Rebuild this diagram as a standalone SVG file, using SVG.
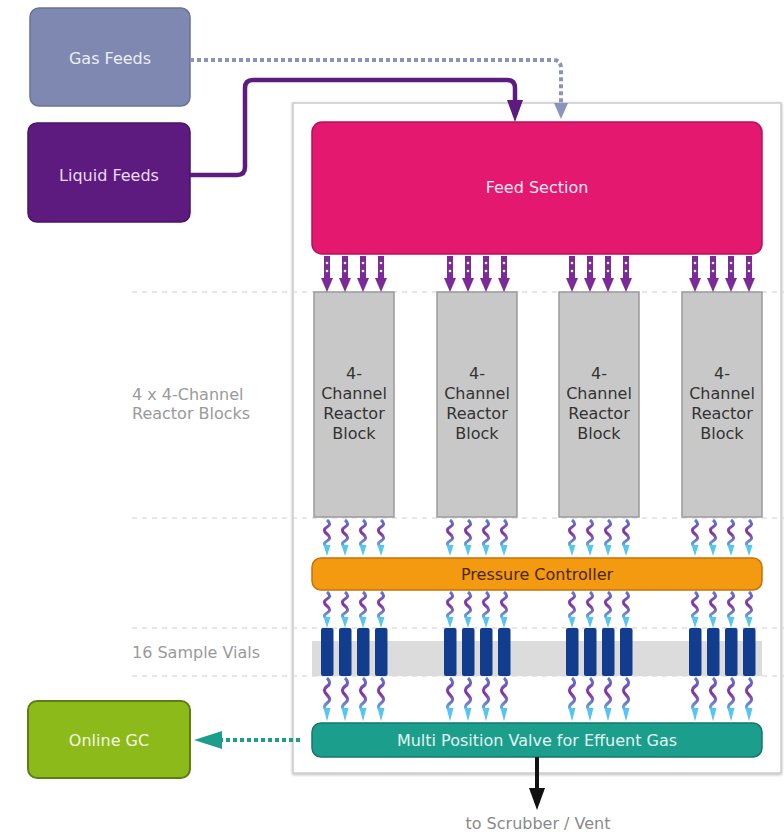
<svg xmlns="http://www.w3.org/2000/svg" xmlns:xlink="http://www.w3.org/1999/xlink" width="784" height="832" viewBox="0 0 784 832">
<style>
text{font-family:"DejaVu Sans","Liberation Sans",sans-serif;font-size:16px}
.c{text-anchor:middle}
.lab{fill:#9a9a9a}
.dash{stroke:#cfcfcf;stroke-width:1;stroke-dasharray:5 5;fill:none}
.reactor{fill:#c8c8c8;stroke:#9a9a9a;stroke-width:1.5}
.rt{fill:#333}
.vial{fill:#123c8e}
</style>
<defs>
<linearGradient id="wg" x1="0" y1="0" x2="0" y2="1">
<stop offset="0" stop-color="#5d7ad8"/>
<stop offset="0.45" stop-color="#8a2c9e"/>
<stop offset="1" stop-color="#55c6f2"/>
</linearGradient>
<filter id="sh" x="-10%" y="-10%" width="120%" height="130%">
<feDropShadow dx="0" dy="1" stdDeviation="1.5" flood-color="#000" flood-opacity="0.3"/>
</filter>
<g id="wave">
<path d="M0,0 c3.5,3 3.5,5 0,7 c-3.5,2 -3.5,4 0,7 c3.5,3 3.5,5 0,7 c-3.5,2 -3.5,4 0,6 L0,28" fill="none" stroke="url(#wg)" stroke-width="3"/>
<polygon points="-3.5,25 3.5,25 0,36" fill="#55c6f2"/>
</g>
<g id="feed">
<line x1="0" y1="0" x2="0" y2="25" stroke="#7b2a98" stroke-width="6"/>
<circle cx="0" cy="7" r="1.3" fill="#fff"/>
<circle cx="0" cy="15" r="1.3" fill="#fff"/>
<polygon points="-6,22 6,22 0,36" fill="#7b2a98"/>
</g>
<g id="feed4"><use xlink:href="#feed" x="13"/><use xlink:href="#feed" x="31"/><use xlink:href="#feed" x="49"/><use xlink:href="#feed" x="67"/></g>
<g id="wave4"><use xlink:href="#wave" x="13"/><use xlink:href="#wave" x="31"/><use xlink:href="#wave" x="49"/><use xlink:href="#wave" x="67"/></g>
<g id="vial4"><rect class="vial" x="7" y="0" width="12.5" height="48" rx="2"/><rect class="vial" x="25" y="0" width="12.5" height="48" rx="2"/><rect class="vial" x="43" y="0" width="12.5" height="48" rx="2"/><rect class="vial" x="61" y="0" width="12.5" height="48" rx="2"/></g>
</defs>
<rect width="784" height="832" fill="#fff"/>

<g id="panel">
<rect x="293" y="103" width="488" height="670" fill="#fff" stroke="#cccccc" stroke-width="1.5" filter="url(#sh)"/>
</g>

<g id="guides">
<line class="dash" x1="132" y1="292" x2="784" y2="292"/>
<line class="dash" x1="132" y1="518" x2="784" y2="518"/>
<line class="dash" x1="132" y1="628" x2="784" y2="628"/>
<line class="dash" x1="132" y1="676" x2="784" y2="676"/>
<rect x="312" y="641" width="450" height="35" fill="#dcdcdc"/>
</g>

<g id="labels">
<text class="lab" x="132" y="400">4 x 4-Channel</text>
<text class="lab" x="132" y="419">Reactor Blocks</text>
<text class="lab" x="132" y="658">16 Sample Vials</text>
</g>

<g id="gas-feeds">
<rect x="30" y="8" width="160" height="98" rx="9" fill="#7f88b0" stroke="#6a7398" stroke-width="1.5"/>
<text class="c" x="110" y="64" fill="#eceef6">Gas Feeds</text>
</g>
<g id="liquid-feeds">
<rect x="28" y="123" width="162" height="99" rx="9" fill="#5d1b80" stroke="#4a1366" stroke-width="1.5"/>
<text class="c" x="109" y="181" fill="#eadcf2">Liquid Feeds</text>
</g>
<g id="feed-section">
<rect x="312" y="122" width="450" height="132" rx="10" fill="#e3186e" stroke="#b8105a" stroke-width="1.5"/>
<text class="c" x="537" y="193" fill="#fde6f0">Feed Section</text>
</g>
<g id="reactor-blocks">
<rect class="reactor" x="314" y="292" width="80" height="225"/>
<rect class="reactor" x="437" y="292" width="80" height="225"/>
<rect class="reactor" x="559" y="292" width="80" height="225"/>
<rect class="reactor" x="682" y="292" width="80" height="225"/>
<g class="rt">
<text class="c rt" x="354" y="379">4-</text><text class="c rt" x="354" y="399">Channel</text><text class="c rt" x="354" y="419">Reactor</text><text class="c rt" x="354" y="439">Block</text>
<text class="c rt" x="477" y="379">4-</text><text class="c rt" x="477" y="399">Channel</text><text class="c rt" x="477" y="419">Reactor</text><text class="c rt" x="477" y="439">Block</text>
<text class="c rt" x="599" y="379">4-</text><text class="c rt" x="599" y="399">Channel</text><text class="c rt" x="599" y="419">Reactor</text><text class="c rt" x="599" y="439">Block</text>
<text class="c rt" x="722" y="379">4-</text><text class="c rt" x="722" y="399">Channel</text><text class="c rt" x="722" y="419">Reactor</text><text class="c rt" x="722" y="439">Block</text>
</g>
</g>
<g id="pressure-controller">
<rect x="312" y="558" width="450" height="32" rx="9" fill="#f39a10" stroke="#c8720a" stroke-width="1.5"/>
<text class="c" x="537" y="580" fill="#4a2605">Pressure Controller</text>
</g>
<g id="sample-vials">
<use xlink:href="#vial4" x="314" y="628"/>
<use xlink:href="#vial4" x="437" y="628"/>
<use xlink:href="#vial4" x="559" y="628"/>
<use xlink:href="#vial4" x="682" y="628"/>
</g>
<g id="valve">
<rect x="312" y="723" width="450" height="34" rx="9" fill="#1c9e8c" stroke="#14786a" stroke-width="1.5"/>
<text class="c" x="537" y="746" fill="#e2f6f2">Multi Position Valve for Effuent Gas</text>
</g>
<g id="online-gc">
<rect x="28" y="701" width="162" height="77" rx="9" fill="#8cba1a" stroke="#5f7e12" stroke-width="2"/>
<text class="c" x="109" y="746" fill="#f2f8e0">Online GC</text>
</g>

<g id="connectors">
<path d="M190,60 H553 Q561,60 561,68 V106" fill="none" stroke="#8a93bb" stroke-width="4" stroke-dasharray="4 3"/>
<polygon points="554,103 568,103 561,119" fill="#8a93bb"/>
<path d="M190,175 H237 Q245,175 245,167 V88 Q245,80 253,80 H507 Q515,80 515,88 V104" fill="none" stroke="#5d1b80" stroke-width="4.5"/>
<polygon points="507,100 523,100 515,122" fill="#5d1b80"/>
<use xlink:href="#feed4" x="314" y="256"/>
<use xlink:href="#feed4" x="437" y="256"/>
<use xlink:href="#feed4" x="559" y="256"/>
<use xlink:href="#feed4" x="682" y="256"/>
<use xlink:href="#wave4" x="314" y="520"/>
<use xlink:href="#wave4" x="437" y="520"/>
<use xlink:href="#wave4" x="559" y="520"/>
<use xlink:href="#wave4" x="682" y="520"/>
<use xlink:href="#wave4" x="314" y="592"/>
<use xlink:href="#wave4" x="437" y="592"/>
<use xlink:href="#wave4" x="559" y="592"/>
<use xlink:href="#wave4" x="682" y="592"/>
<use xlink:href="#wave4" transform="translate(314,678) scale(1,1.2)"/>
<use xlink:href="#wave4" transform="translate(437,678) scale(1,1.2)"/>
<use xlink:href="#wave4" transform="translate(559,678) scale(1,1.2)"/>
<use xlink:href="#wave4" transform="translate(682,678) scale(1,1.2)"/>
<line x1="300" y1="740" x2="222" y2="740" stroke="#1c9e8c" stroke-width="4" stroke-dasharray="4 3"/>
<polygon points="194,740 222,731 222,749" fill="#1c9e8c"/>
<line x1="537" y1="757" x2="537" y2="790" stroke="#111" stroke-width="4"/>
<polygon points="529,788 545,788 537,810" fill="#111"/>
</g>
<text class="c" x="538" y="829" fill="#8a8a8a">to Scrubber / Vent</text>
</svg>
